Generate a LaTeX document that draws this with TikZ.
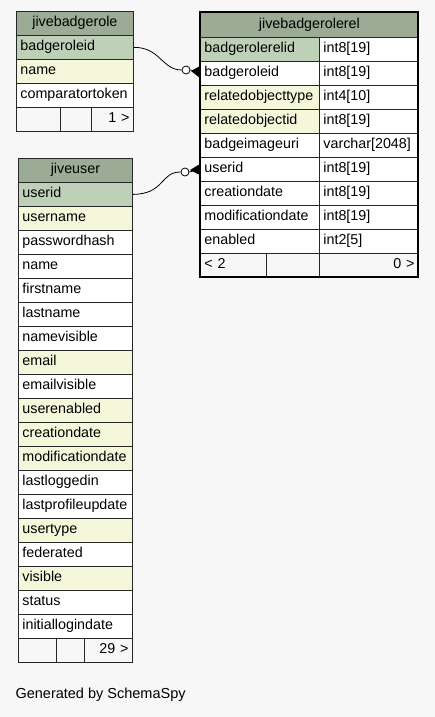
\documentclass[tikz,border=0pt]{standalone}
\usepackage{fontspec}
\setmainfont{Liberation Sans}
\usetikzlibrary{positioning}
\definecolor{bgcol}{HTML}{F7F7F7}
\definecolor{headcol}{HTML}{9BAB96}
\definecolor{pkcol}{HTML}{BED1B8}
\definecolor{idxcol}{HTML}{F4F7DA}
\tikzset{cell/.style = {draw=black!85, line width=0.8pt, rectangle, anchor=north west,
                        inner xsep=4pt, inner ysep=0pt, minimum height=24pt,
                        text height=10pt, text depth=3pt,
                        font=\fontsize{14.3}{16}\selectfont}}
\tikzset{lcell/.style = {cell, text width=#1, align=left}}
\tikzset{ccell/.style = {cell, text width=#1, align=center, fill=headcol}}
\tikzset{rcell/.style = {cell, text width=#1, align=right}}
\tikzset{dot/.style = {draw, circle, fill=white, line width=0.8pt, inner sep=0, minimum size=8pt}}
\tikzset{crow/.style = {fill=black}}

\begin{document}
\begin{tikzpicture}[x=1pt, y=-1pt]
      \fill [bgcol] (0, 0) rectangle (435, 717);
      % jivebadgerole
      \node [ccell=109pt] (role) at (16, 11) {jivebadgerole};
      \node [lcell=109pt, fill=pkcol] (role1) at (16, 35) {badgeroleid};
      \node [lcell=109pt, fill=idxcol] (role2) at (16, 59) {name};
      \node [lcell=109pt, fill=white] (role3) at (16, 83) {comparatortoken};
      \node [lcell=36pt, fill=bgcol] (rolef1) at (16, 107) {};
      \node [lcell=23pt, fill=bgcol] (rolef2) at (60, 107) {};
      \node [rcell=34pt, fill=bgcol] (rolef3) at (91, 107) {1 >};
      % jivebadgerolerel
      \node [ccell=210pt, minimum height=25pt] (rel) at (200, 12) {jivebadgerolerel};
      \foreach \n/\t/\ty/\c [count=\i] in {badgerolerelid/int8[19]/19/pkcol,
                             badgeroleid/int8[19]/19/white,
                             relatedobjecttype/int4[10]/10/idxcol,
                             relatedobjectid/int8[19]/19/idxcol,
                             badgeimageuri/varchar[2048]/2048/white,
                             userid/int8[19]/19/white,
                             creationdate/int8[19]/19/white,
                             modificationdate/int8[19]/19/white,
                             enabled/int2[5]/5/white} {
        \node [lcell=111pt, fill=\c] (rel\i) at (200, 13 + 24*\i) {\n};
        \node [lcell=91pt, fill=white] (reltype\i) at (319, 13 + 24*\i) {\t};
      }
      \node [lcell=58pt, fill=bgcol] (relf1) at (200, 253) {< 2};
      \node [lcell=45pt, fill=bgcol] (relf2) at (266, 253) {};
      \node [rcell=91pt, fill=bgcol] (relf3) at (319, 253) {0 >};
      \draw [line width=2.6pt] (200, 12) rectangle (418, 277);
      % jiveuser
      \node [ccell=106pt] (user) at (18, 158) {jiveuser};
      \foreach \n/\c [count=\i] in {userid/pkcol, username/idxcol, passwordhash/white,
                             name/white, firstname/white, lastname/white,
                             namevisible/white, email/idxcol, emailvisible/white,
                             userenabled/idxcol, creationdate/idxcol,
                             modificationdate/idxcol, lastloggedin/white,
                             lastprofileupdate/white, usertype/idxcol,
                             federated/white, visible/idxcol, status/white,
                             initiallogindate/white} {
        \node [lcell=106pt, fill=\c] (user\i) at (18, 158 + 24*\i) {\n};
      }
      \node [lcell=30pt, fill=bgcol] (userf1) at (18, 638) {};
      \node [lcell=20pt, fill=bgcol] (userf2) at (56, 638) {};
      \node [rcell=40pt, fill=bgcol] (userf3) at (84, 638) {29 >};
      % relationships
      \node [dot] (dot1) at (186, 70) {};
      \node [dot] (dot2) at (185, 172) {};
      \coordinate (foot1) at (200, 72);
      \coordinate (foot2) at (200, 169);
      \draw [line width=0.8pt] (role1.east) .. controls (160, 47) and (162, 70) .. (dot1.west);
      \draw [line width=0.8pt] (user1.east) .. controls (165, 194) and (160, 172) .. (dot2.west);
      \draw [line width=0.8pt] (dot1.east) -- (foot1);
      \draw [line width=0.8pt] (dot2.east) -- (foot2);
      \fill [crow] (191, 71) -- (200, 66) -- (200, 78) -- cycle;
      \fill [crow] (190, 170) -- (200, 164) -- (200, 175) -- cycle;
      \node [anchor=west, font=\fontsize{14.5}{16}\selectfont] (gen) at (12, 695) {Generated by SchemaSpy};
    \end{tikzpicture}
\end{document}
